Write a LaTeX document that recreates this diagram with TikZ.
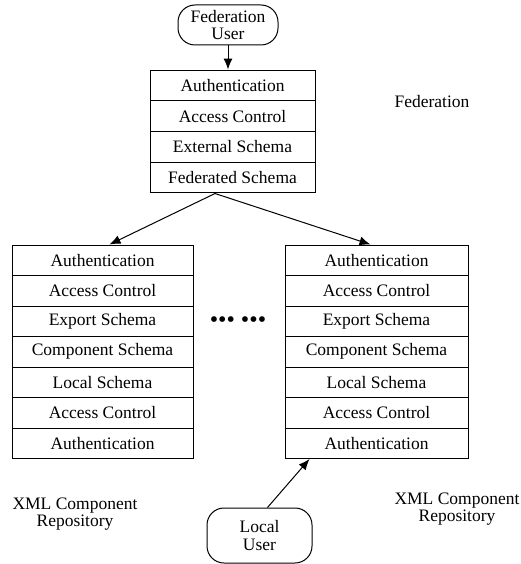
\documentclass[tikz,border=0pt]{standalone}
\usepackage{fontspec}
\setmainfont{Liberation Serif}
\usetikzlibrary{arrows.meta}

\begin{document}
\begin{tikzpicture}[x=1pt, y=-1pt, line width=1pt,
    every node/.style={font=\fontsize{17.5}{17.5}\selectfont},
    layer/.style={shape=rectangle, draw=black, minimum width=165pt, minimum height=30.75pt, inner sep=0pt},
    user/.style={shape=rectangle, rounded corners=17pt, draw=black, align=center, minimum width=100pt, minimum height=40pt, inner sep=0pt},
    >={Latex[length=11pt,width=9pt]}]
    \useasboundingbox (0,0) rectangle (521,564);

    \node[user] at (228,25) (fuser) {Federation\\User};
    \node[layer] at (232.5,85.4) (fauth) {Authentication};
    \node[layer] at (232.5,116.1) (facc) {Access Control};
    \node[layer] at (232.5,146.9) (fext) {External Schema};
    \node[layer] at (232.5,177.6) (ffed) {Federated Schema};
    \node at (432,102) (fedlabel) {Federation};

    % left component repository
    \node[layer, minimum width=181pt, minimum height=30.5pt] at (102.5,260.25) (lauth) {Authentication};
    \node[layer, minimum width=181pt, minimum height=30.5pt] at (102.5,290.75) (lacc) {Access Control};
    \node[layer, minimum width=181pt, minimum height=30.5pt] at (102.5,321.25) (lexp) {Export Schema};
    \node[layer, minimum width=181pt, minimum height=30.5pt] at (102.5,351.75) (lcomp) {Component Schema};
    \node[layer, minimum width=181pt, minimum height=30.5pt] at (102.5,382.25) (lloc) {Local Schema};
    \node[layer, minimum width=181pt, minimum height=30.5pt] at (102.5,412.75) (lacc2) {Access Control};
    \node[layer, minimum width=181pt, minimum height=30.5pt] at (102.5,443.25) (lauth2) {Authentication};
    \node[align=center] at (75,514) (lrepo) {XML Component\\Repository};

    % right component repository
    \node[layer, minimum width=183pt, minimum height=30.5pt] at (376.5,260.25) (rauth) {Authentication};
    \node[layer, minimum width=183pt, minimum height=30.5pt] at (376.5,290.75) (racc) {Access Control};
    \node[layer, minimum width=183pt, minimum height=30.5pt] at (376.5,321.25) (rexp) {Export Schema};
    \node[layer, minimum width=183pt, minimum height=30.5pt] at (376.5,351.75) (rcomp) {Component Schema};
    \node[layer, minimum width=183pt, minimum height=30.5pt] at (376.5,382.25) (rloc) {Local Schema};
    \node[layer, minimum width=183pt, minimum height=30.5pt] at (376.5,412.75) (racc2) {Access Control};
    \node[layer, minimum width=183pt, minimum height=30.5pt] at (376.5,443.25) (rauth2) {Authentication};
    \node[align=center] at (457,509) (rrepo) {XML Component\\Repository};

    \node[font=\fontsize{24}{24}\selectfont] at (238,322) (dots) {\textbullet\textbullet\textbullet\ \textbullet\textbullet\textbullet};
    \node[user, minimum width=105pt, minimum height=55pt] at (259.5,535.5) (luser) {Local\\User};

    \coordinate (split) at (215,193.5);
    \path [->] (fuser) edge (fuser |- fauth.north);
    \path [->] (split) edge ([xshift=7pt]lauth.north);
    \path [->] (split) edge ([xshift=-6pt]rauth.north);
    \path [->] ([xshift=8pt]luser.north) edge ([xshift=25pt]rauth2.south west);
\end{tikzpicture}
\end{document}
